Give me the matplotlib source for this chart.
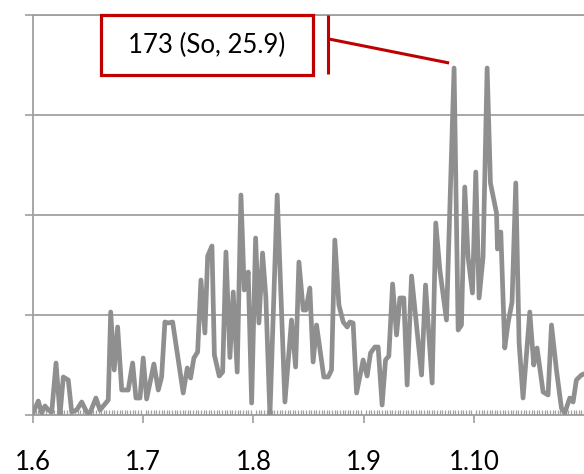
import matplotlib
matplotlib.use("Agg")
import matplotlib.pyplot as plt
import matplotlib.patches as patches
from matplotlib.ticker import MultipleLocator, FixedLocator

plt.rcParams['font.family'] = ['Lato', 'DejaVu Sans']

# category groups (10 units per group on the x axis)
group_pos = [0, 10, 20, 30, 40]
group_labels = ["1.6", "1.7", "1.8", "1.9", "1.10"]

# series: position along the axis, value
xs = [0.0, 0.48, 0.79, 1.09, 1.39, 1.70, 2.09, 2.45, 2.75, 3.20,
      3.51, 3.96, 4.42, 4.87, 5.17, 5.71, 6.08, 6.83, 7.05, 7.37,
      7.68, 8.05, 8.64, 9.04, 9.34, 9.71, 10.00, 10.31, 10.97, 11.37,
      11.67, 11.97, 12.27, 12.67, 13.63, 14.00, 14.30, 14.60, 14.94, 15.24,
      15.60, 15.85, 16.24, 16.46, 16.90, 17.21, 17.51, 17.87, 18.17, 18.53,
      18.87, 19.17, 19.53, 19.84, 20.20, 20.50, 20.83, 21.13, 21.50, 22.16,
      22.86, 23.46, 23.83, 24.13, 24.52, 24.76, 25.12, 25.42, 25.73, 26.39,
      26.78, 27.09, 27.39, 27.76, 28.15, 28.51, 28.75, 29.05, 29.36, 29.96,
      30.32, 30.63, 31.02, 31.32, 31.68, 31.99, 32.29, 32.63, 32.99, 33.29,
      33.65, 33.95, 34.35, 35.26, 35.62, 36.22, 36.55, 36.92, 37.52, 38.21,
      38.58, 38.88, 39.18, 39.48, 39.88, 40.18, 40.48, 40.84, 41.21, 41.51,
      42.06, 42.15, 42.45, 42.81, 43.11, 43.47, 43.81, 44.11, 44.47, 45.08,
      45.44, 45.74, 46.29, 46.74, 47.05, 47.50, 47.95, 48.25, 48.71, 49.01,
      49.31, 49.76, 50.20]
ys = [0.2, 1.4, 0.2, 0.9, 0.5, 0.3, 5.2, 0.0, 3.8, 3.5,
      0.3, 0.5, 1.3, 0.3, 0.2, 1.7, 0.5, 1.5, 10.3, 4.5,
      8.8, 2.5, 2.5, 5.2, 1.7, 1.7, 5.7, 1.6, 5.1, 2.5,
      3.8, 9.3, 9.2, 9.3, 2.2, 4.7, 3.7, 5.7, 6.3, 13.5,
      8.2, 15.9, 16.9, 6.0, 3.9, 4.3, 16.3, 5.75, 12.3, 4.3,
      22.0, 12.5, 14.3, 1.2, 17.7, 9.2, 16.2, 11.8, 0.0, 22.0,
      1.3, 9.5, 4.8, 15.3, 10.5, 10.5, 12.7, 5.3, 9.0, 3.8,
      3.8, 4.5, 17.5, 11.0, 9.3, 8.8, 9.3, 9.2, 2.2, 5.5,
      3.9, 6.2, 6.8, 6.8, 1.0, 5.5, 5.9, 13.1, 8.0, 11.7,
      11.7, 3.0, 13.9, 4.0, 13.0, 3.2, 19.2, 14.5, 9.5, 34.7,
      8.5, 9.0, 22.8, 15.8, 12.2, 24.3, 11.7, 15.8, 34.7, 23.2,
      20.2, 16.6, 18.3, 6.7, 9.2, 11.3, 23.2, 7.2, 1.7, 10.3,
      5.0, 6.7, 2.3, 2.0, 9.0, 4.5, 0.7, 0.2, 1.7, 1.3,
      3.5, 4.0, 4.2]

callout_text = "173 (So, 25.9)"

axis_grey = '#a0a0a0'
line_grey = '#8f8f8f'
red = '#c00000'

fig = plt.figure(figsize=(5.84, 4.74), dpi=100)
ax = fig.add_axes([33 / 584, 59 / 474, 551 / 584, 400 / 474])

ax.plot(xs, ys, color=line_grey, lw=3.4, solid_joinstyle='round',
        solid_capstyle='round', zorder=3)

ax.set_xlim(0, 50)
ax.set_ylim(0, 40)

ax.yaxis.set_major_locator(MultipleLocator(10))
ax.grid(axis='y', color=axis_grey, lw=1.3)
ax.set_axisbelow(True)
ax.tick_params(axis='y', which='major', direction='out', length=6, width=1.2,
               color=axis_grey, labelleft=False)

ax.xaxis.set_major_locator(FixedLocator(group_pos))
ax.set_xticklabels(group_labels)
ax.xaxis.set_minor_locator(MultipleLocator(10 / 42))
ax.tick_params(axis='x', which='major', direction='out', length=5.5, width=1.2,
               color=axis_grey, labelsize=18.5, pad=20, labelcolor='black')
ax.tick_params(axis='x', which='minor', direction='in', length=3.8, width=0.9,
               color=axis_grey)

ax.spines['right'].set_visible(False)
for side in ['left', 'bottom', 'top']:
    ax.spines[side].set_color(axis_grey)
    ax.spines[side].set_linewidth(1.3)

# callout box with its leader line
box = patches.Rectangle((6.17, 34.0), 19.23, 6.0, facecolor='white',
                        edgecolor=red, lw=2.3, zorder=5, clip_on=False)
ax.add_patch(box)
ax.text(6.17 + 19.23 / 2, 37.0, callout_text, ha='center', va='center',
        fontsize=18.5, color='black', zorder=6)
ax.plot([26.73, 26.73], [34.1, 40.0], color=red, lw=2.2, zorder=5,
        solid_capstyle='butt', clip_on=False)
ax.plot([26.85, 37.76], [37.6, 35.2], color=red, lw=2.2, zorder=5,
        solid_capstyle='butt')

fig.savefig("out.png", dpi=100)
